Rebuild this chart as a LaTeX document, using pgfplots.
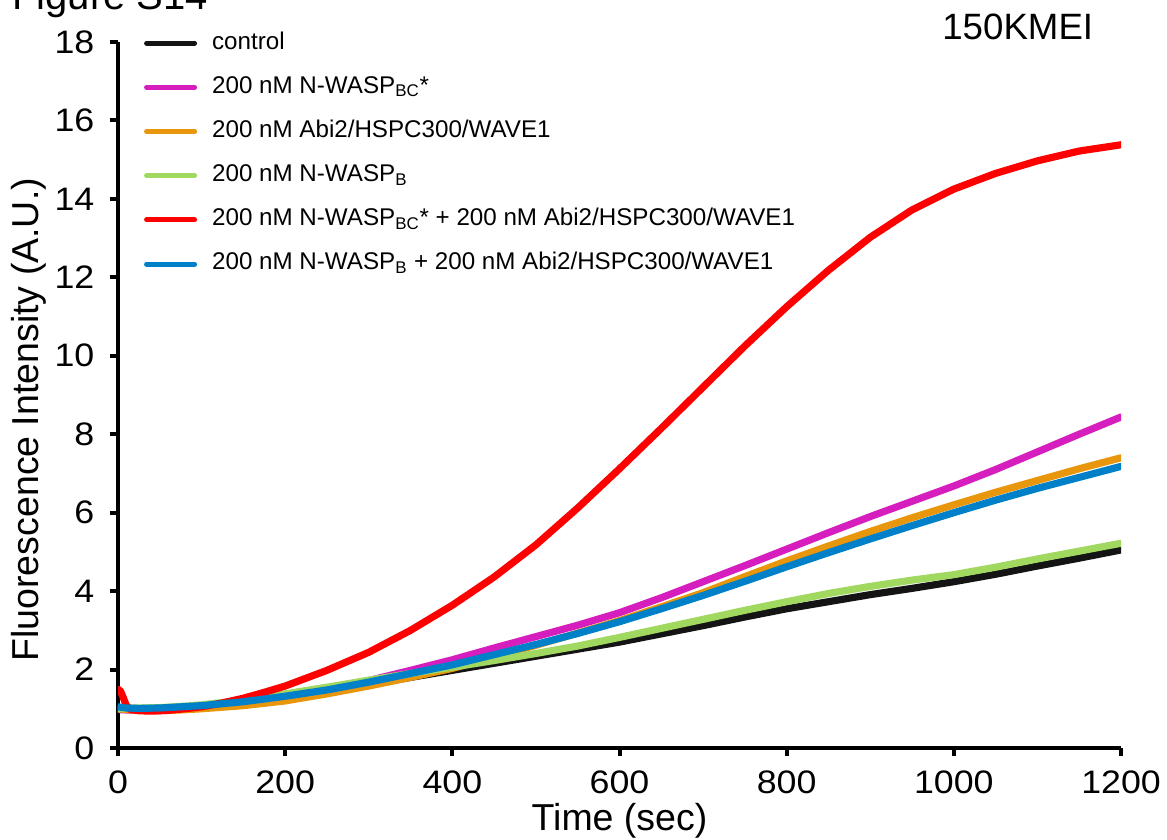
\documentclass[border=0pt]{standalone}
\usepackage{fontspec}
\setmainfont{Liberation Sans}
\newfontfamily\tickfont{Liberation Sans}[FakeStretch=1.1]
\usepackage{pgfplots}
\pgfplotsset{compat=1.18}
\definecolor{cblack}{RGB}{20,20,20}
\definecolor{cmag}{RGB}{214,30,190}
\definecolor{corange}{RGB}{232,150,12}
\definecolor{cgreen}{RGB}{160,216,96}
\definecolor{cred}{RGB}{255,0,0}
\definecolor{cblue}{RGB}{0,128,200}
\begin{document}
\begin{tikzpicture}
\useasboundingbox (-70.8pt,-54.6pt) rectangle (629.4pt,448.8pt);
\clip (-70.8pt,-54.6pt) rectangle (629.4pt,448.8pt);
\node[anchor=base west, inner sep=0pt, font=\fontsize{24}{28}\selectfont] at (-63.6pt,442.8pt) {Figure S14};
\node[anchor=base west, inner sep=0pt, font=\fontsize{22}{26}\selectfont] at (494.4pt,424.8pt) {150KMEI};
\begin{axis}[
  at={(0,0)}, anchor=south west,
  width=601.8pt, height=423.6pt, scale only axis,
  xmin=0, xmax=1200, ymin=0, ymax=18,
  axis x line=bottom, axis y line=left,
  axis line style={-, line width=2.4pt, black},
  xtick={0,200,...,1200}, ytick={0,2,...,18},
  tick align=outside, major tick length=5pt,
  every tick/.style={line width=2.4pt, black},
  /pgf/number format/assume math mode=true,
  /pgf/number format/1000 sep={},
  tick label style={font=\tickfont\fontsize{19.5}{24}\selectfont},
  yticklabel style={anchor=east, inner sep=0pt, xshift=-9pt},
  xticklabel style={anchor=north, inner sep=0pt, yshift=-8.5pt},
  xlabel={Time (sec)}, ylabel={Fluorescence Intensity (A.U.)},
  label style={font=\fontsize{22.5}{26}\selectfont},
  xlabel style={at={(axis description cs:0.5,0)}, anchor=base, inner sep=0pt, yshift=-49.2pt},
  ylabel style={at={(axis description cs:0,0.465)}, anchor=base, inner sep=0pt, yshift=47.4pt},
  legend style={draw=none, fill=none, at={(axis description cs:0.026,1.016)}, anchor=north west,
    inner sep=0pt, outer sep=0pt, font=\fontsize{14.5}{17}\selectfont, row sep=11.5pt,
    nodes={inner sep=0pt, text height=11pt, text depth=4pt, anchor=west}},
  legend cell align=left,
  legend image code/.code={\draw[#1, line width=3pt] (0pt,0pt) -- (28.8pt,0pt); \path (37.2pt,0pt);},
  every axis plot/.append style={line width=4.3pt, line join=round, line cap=round},
]
\addplot[cblack] coordinates {(0,1.02)(10,1.0)(25,1.0)(50,1.0)(75,1.02)(100,1.05)(150,1.14)(200,1.28)(250,1.44)(300,1.62)(350,1.80)(400,1.98)(450,2.16)(500,2.34)(550,2.52)(600,2.70)(650,2.91)(700,3.12)(750,3.34)(800,3.55)(850,3.73)(900,3.91)(950,4.07)(1000,4.24)(1050,4.43)(1100,4.64)(1150,4.84)(1200,5.05)};
\addlegendentry{control}
\addplot[cmag] coordinates {(0,0.98)(10,0.97)(25,0.97)(50,0.98)(75,1.0)(100,1.04)(150,1.15)(200,1.30)(250,1.50)(300,1.72)(350,1.98)(400,2.25)(450,2.55)(500,2.84)(550,3.13)(600,3.45)(650,3.83)(700,4.24)(750,4.65)(800,5.07)(850,5.49)(900,5.90)(950,6.29)(1000,6.68)(1050,7.10)(1100,7.55)(1150,8.00)(1200,8.44)};
\addlegendentry{200 nM N-WASP\textsubscript{BC}*}
\addplot[corange] coordinates {(0,1.0)(10,0.98)(25,0.96)(50,0.95)(75,0.97)(100,1.0)(150,1.08)(200,1.20)(250,1.38)(300,1.58)(350,1.80)(400,2.03)(450,2.32)(500,2.62)(550,2.93)(600,3.25)(650,3.60)(700,3.96)(750,4.37)(800,4.77)(850,5.15)(900,5.52)(950,5.87)(1000,6.20)(1050,6.52)(1100,6.82)(1150,7.12)(1200,7.40)};
\addlegendentry{200 nM Abi2/HSPC300/WAVE1}
\addplot[cgreen] coordinates {(0,1.0)(10,1.02)(25,1.02)(50,1.03)(75,1.06)(100,1.10)(150,1.22)(200,1.38)(250,1.55)(300,1.73)(350,1.90)(400,2.06)(450,2.23)(500,2.41)(550,2.60)(600,2.82)(650,3.05)(700,3.28)(750,3.51)(800,3.73)(850,3.94)(900,4.12)(950,4.28)(1000,4.42)(1050,4.61)(1100,4.82)(1150,5.02)(1200,5.22)};
\addlegendentry{200 nM N-WASP\textsubscript{B}}
\addplot[cred] coordinates {(0,1.50)(3,1.45)(6,1.30)(10,1.08)(15,0.98)(25,0.95)(40,0.94)(60,0.96)(80,1.0)(100,1.05)(125,1.15)(150,1.27)(175,1.42)(200,1.58)(250,1.98)(300,2.44)(350,3.00)(400,3.64)(450,4.36)(500,5.18)(550,6.12)(600,7.12)(650,8.15)(700,9.20)(750,10.25)(800,11.25)(850,12.18)(900,13.02)(950,13.72)(1000,14.25)(1050,14.65)(1100,14.97)(1150,15.22)(1200,15.38)};
\addlegendentry{200 nM N-WASP\textsubscript{BC}* + 200 nM Abi2/HSPC300/WAVE1}
\addplot[cblue] coordinates {(0,1.05)(10,1.02)(25,1.01)(50,1.02)(75,1.05)(100,1.08)(150,1.18)(200,1.32)(250,1.48)(300,1.68)(350,1.90)(400,2.12)(450,2.38)(500,2.64)(550,2.92)(600,3.22)(650,3.55)(700,3.89)(750,4.25)(800,4.62)(850,4.98)(900,5.33)(950,5.67)(1000,6.00)(1050,6.32)(1100,6.62)(1150,6.90)(1200,7.18)};
\addlegendentry{200 nM N-WASP\textsubscript{B} + 200 nM Abi2/HSPC300/WAVE1}
\end{axis}
\end{tikzpicture}
\end{document}
